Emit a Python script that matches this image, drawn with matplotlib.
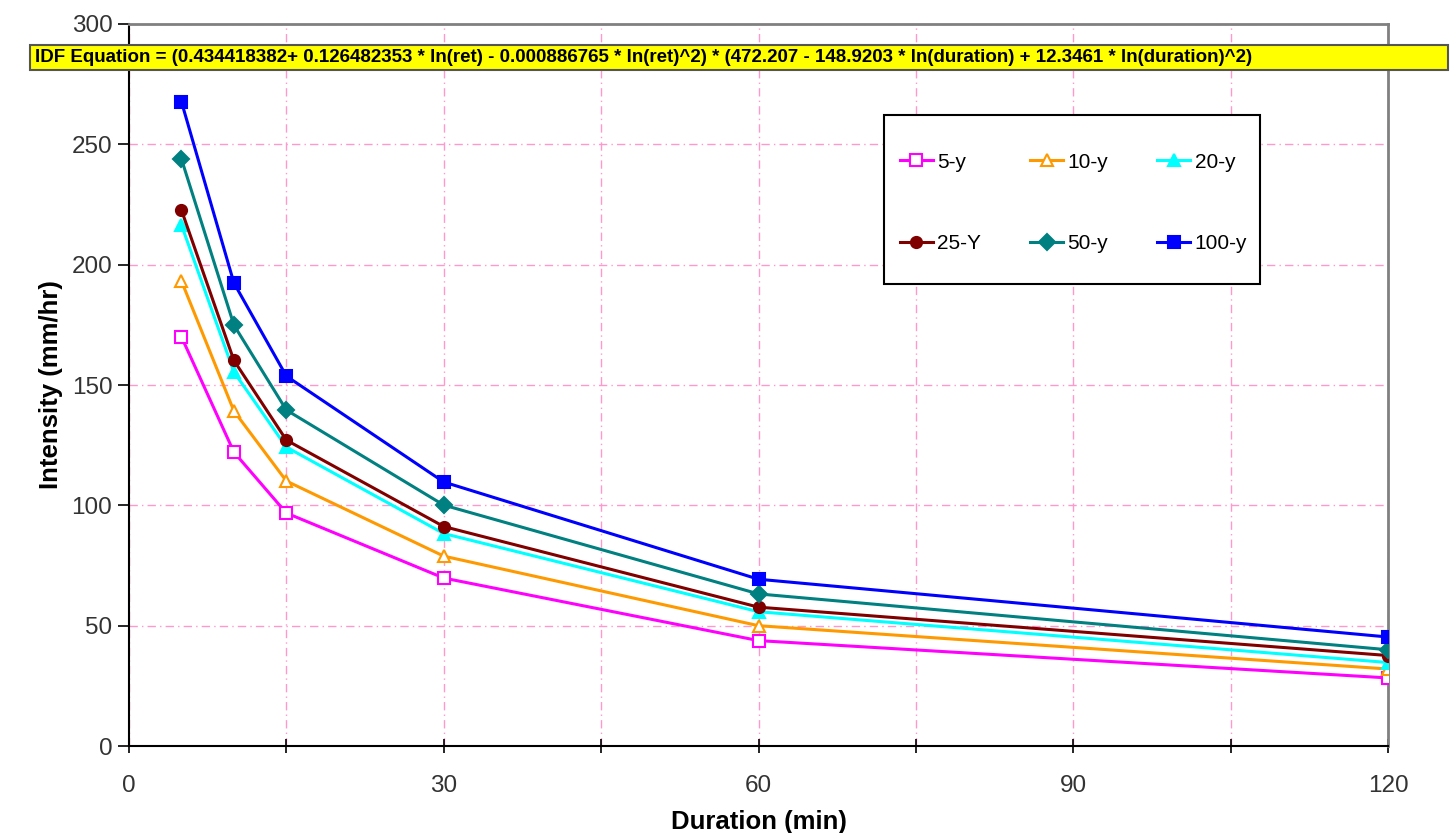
import matplotlib
matplotlib.use("Agg")
import matplotlib.pyplot as plt
from matplotlib.patches import Rectangle
from matplotlib.ticker import MultipleLocator, FuncFormatter

# Rainfall intensity (mm/hr) by storm duration for each return period
durations = [5, 10, 15, 30, 60, 120]
labels = ["5-y", "10-y", "20-y", "25-Y", "50-y", "100-y"]
i_5y = [170.0, 122.1, 96.8, 69.8, 43.8, 28.3]
i_10y = [193.2, 139.2, 110.1, 78.9, 50.0, 32.0]
i_20y = [216.5, 155.4, 124.2, 88.3, 55.8, 34.7]
i_25y = [222.7, 160.2, 127.1, 91.2, 57.7, 37.6]
i_50y = [243.9, 174.9, 139.6, 100.1, 63.2, 40.0]
i_100y = [267.7, 192.4, 153.7, 109.7, 69.3, 45.3]
series = [i_5y, i_10y, i_20y, i_25y, i_50y, i_100y]

equation = ("IDF Equation = (0.434418382+ 0.126482353 * ln(ret) - 0.000886765 * ln(ret)^2) * "
            "(472.207 - 148.9203 * ln(duration) + 12.3461 * ln(duration)^2)")

styles = [
    dict(color="#FF00FF", marker="s", mfc="white", mec="#FF00FF", ms=9),
    dict(color="#FF9900", marker="^", mfc="white", mec="#FF9900", ms=9),
    dict(color="#00FFFF", marker="^", mfc="#00FFFF", mec="#00FFFF", ms=9),
    dict(color="#800000", marker="o", mfc="#800000", mec="#800000", ms=8),
    dict(color="#008080", marker="D", mfc="#008080", mec="#008080", ms=8),
    dict(color="#0000FF", marker="s", mfc="#0000FF", mec="#0000FF", ms=9),
]

plt.rcParams["font.family"] = ["Liberation Sans", "DejaVu Sans"]

fig = plt.figure(figsize=(14.51, 8.33), dpi=100)
ax = fig.add_axes([0.0889, 0.1044, 0.8677, 0.8668])

handles = []
for vals, lab, st in zip(series, labels, styles):
    h, = ax.plot(durations, vals, label=lab, lw=2.2, mew=1.5, **st, zorder=3)
    handles.append(h)

ax.set_xlim(0, 120)
ax.set_ylim(0, 300)
ax.xaxis.set_major_locator(MultipleLocator(15))
ax.yaxis.set_major_locator(MultipleLocator(50))
ax.xaxis.set_major_formatter(FuncFormatter(lambda v, p: f"{int(v)}" if int(v) % 30 == 0 else ""))

ax.grid(True, color="#FF99CC", ls=(0, (6, 3, 1, 3)), lw=1.0, zorder=0)

ax.tick_params(axis="x", direction="inout", length=10, width=1.2, labelsize=17.5,
               labelcolor="#333333", pad=16)
ax.tick_params(axis="y", direction="out", length=8, width=1.2, labelsize=17.5,
               labelcolor="#333333", pad=4)

for side in ("left", "bottom"):
    ax.spines[side].set_color("black")
    ax.spines[side].set_linewidth(1.5)
for side in ("top", "right"):
    ax.spines[side].set_color("#808080")
    ax.spines[side].set_linewidth(2.0)

ax.set_xlabel("Duration (min)", fontsize=18.5, fontweight="bold", labelpad=9)
ax.set_ylabel("Intensity (mm/hr)", fontsize=18.5, fontweight="bold", labelpad=6)

# Legend laid out row by row (matplotlib fills columns first)
order = [0, 3, 1, 4, 2, 5]
leg = ax.legend([handles[i] for i in order], [labels[i] for i in order],
                ncol=3, loc="upper left", bbox_to_anchor=(0.612, 0.822),
                frameon=False, fontsize=15, handlelength=1.6,
                columnspacing=2.35, labelspacing=3.0, borderpad=0,
                handletextpad=0.2, borderaxespad=0)
ax.add_patch(Rectangle((0.5997, 0.6399), 0.2986, 0.2341, transform=ax.transAxes,
                       fc="white", ec="black", lw=1.5, zorder=4))
leg.set_zorder(5)

fig.patches.append(Rectangle((0.0207, 0.916), 0.9773, 0.030, transform=fig.transFigure,
                             fc="#FFFF00", ec="#555555", lw=1.5, zorder=10))
fig.text(0.0241, 0.931, equation, fontsize=13.5, fontweight="bold",
         va="center", ha="left", zorder=11)

fig.savefig("out.png", dpi=100)
